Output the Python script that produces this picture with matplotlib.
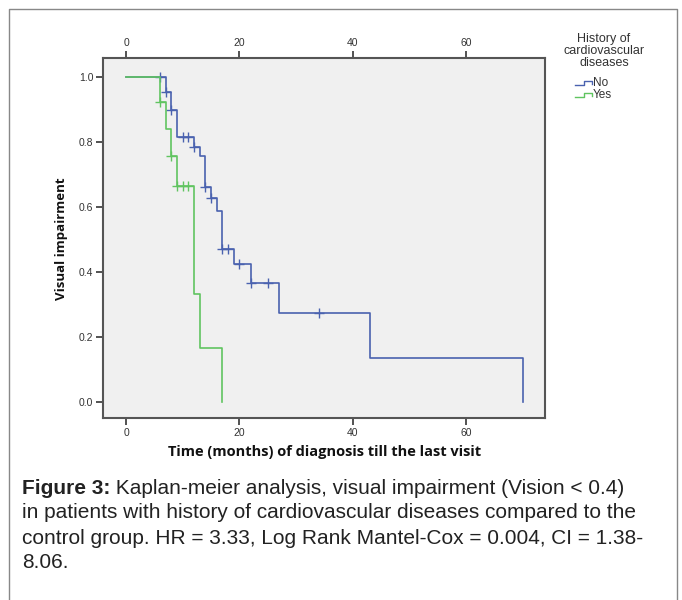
import numpy as np
import matplotlib
matplotlib.use("Agg")
import matplotlib.pyplot as plt
from matplotlib.lines import Line2D

# Kaplan-Meier step values (time in months, survival)
no_t = [0, 7, 8, 9, 12, 13, 14, 15, 16, 17, 19, 22, 27, 43, 70]
no_s = [1.0, 0.953, 0.899, 0.817, 0.786, 0.757, 0.663, 0.627, 0.589, 0.471, 0.424, 0.365, 0.274, 0.137, 0.0]
no_cens_t = [6, 7, 8, 10, 11, 12, 14, 15, 17, 18, 20, 22, 25, 34]

yes_t = [0, 6, 7, 8, 9, 12, 13, 17]
yes_s = [1.0, 0.923, 0.842, 0.757, 0.665, 0.333, 0.167, 0.0]
yes_cens_t = [6, 8, 9, 10, 11]

xticks = [0, 20, 40, 60]
yticks = [0.0, 0.2, 0.4, 0.6, 0.8, 1.0]
groups = ["No", "Yes"]
legend_title = "History of\ncardiovascular\ndiseases"
xlabel = "Time (months) of diagnosis till the last visit"
ylabel = "Visual impairment"
cap_bold = "Figure 3:"
cap_lines = [" Kaplan-meier analysis, visual impairment (Vision < 0.4)",
             "in patients with history of cardiovascular diseases compared to the",
             "control group. HR = 3.33, Log Rank Mantel-Cox = 0.004, CI = 1.38-",
             "8.06."]

BLUE = "#4A62AF"; GREEN = "#60C460"; W, H = 682, 600

def at(ts, ss, c):
    # survival value of the step curve at time c
    return ss[np.searchsorted(ts, c, side="right") - 1]

fig = plt.figure(figsize=(W/100, H/100), dpi=100)
fx = lambda p: p/W
fy = lambda p: 1 - p/H

ax = fig.add_axes([fx(103), fy(418), 442/W, 360/H])
ax.set_facecolor("#F0F0F0")
for t, s, ct, col in [(no_t, no_s, no_cens_t, BLUE), (yes_t, yes_s, yes_cens_t, GREEN)]:
    ax.step(t, s, where="post", color=col, lw=1.2)
    ax.plot(ct, [at(t, s, c) for c in ct], ls="none", marker="+", ms=7, mew=1.0, color=col)

ax.set_xlim(-4.06, 73.9); ax.set_ylim(-0.049, 1.059)
ax.set_xticks(xticks); ax.set_yticks(yticks)
ax.set_yticklabels([f"{v:.1f}" for v in yticks])
ax.tick_params(axis="x", top=True, labeltop=True)
ax.tick_params(direction="out", length=5, width=1.3, color="#444", labelcolor="#333",
               labelsize=7.5, pad=2)
for lab in ax.get_xticklabels() + ax.get_yticklabels():
    lab.set_fontfamily("Liberation Sans")
for sp in ax.spines.values():
    sp.set_color("#555"); sp.set_linewidth(1.5)

fig.text(fx(325), fy(452), xlabel, ha="center", va="center", fontsize=10.5,
         fontweight="bold", family="Open Sans", color="#111")
fig.text(fx(62), fy(239), ylabel, ha="center", va="center", rotation=90, fontsize=9.5,
         fontweight="bold", family="Open Sans", color="#111")

# legend (SPSS style, outside the plot)
fig.text(fx(604), fy(51), legend_title, ha="center", va="center", fontsize=9,
         family="Liberation Sans", color="#333", linespacing=1.0)
for (g, col, yy) in [(groups[0], BLUE, 83), (groups[1], GREEN, 95)]:
    xs = [575, 584, 584, 592, 592]; ys = [yy+2, yy+2, yy-2, yy-2, yy+1]
    fig.add_artist(Line2D([fx(v) for v in xs], [fy(v) for v in ys], color=col, lw=1.0,
                          transform=fig.transFigure))
    fig.text(fx(593), fy(yy), g, ha="left", va="center", fontsize=8.5,
             family="Liberation Sans", color="#333")

# outer frame
fig.add_artist(Line2D([fx(9), fx(9), fx(677), fx(677)], [0, fy(9), fy(9), 0],
                      color="#888", lw=1.0, transform=fig.transFigure))

# caption
fig.canvas.draw()
r = fig.canvas.get_renderer()
x0 = fx(22)
ys_cap = [488, 513, 538, 563]
tb = fig.text(x0, fy(ys_cap[0]), cap_bold, ha="left", va="center", fontsize=15,
              fontweight="bold", family="Liberation Sans", color="#222")
bw = tb.get_window_extent(r).width / W
fig.text(x0 + bw, fy(ys_cap[0]), cap_lines[0], ha="left", va="center", fontsize=15,
         family="Liberation Sans", color="#222")
for line, yy in zip(cap_lines[1:], ys_cap[1:]):
    fig.text(x0, fy(yy), line, ha="left", va="center", fontsize=15,
             family="Liberation Sans", color="#222")

fig.savefig("out.png", dpi=100)
